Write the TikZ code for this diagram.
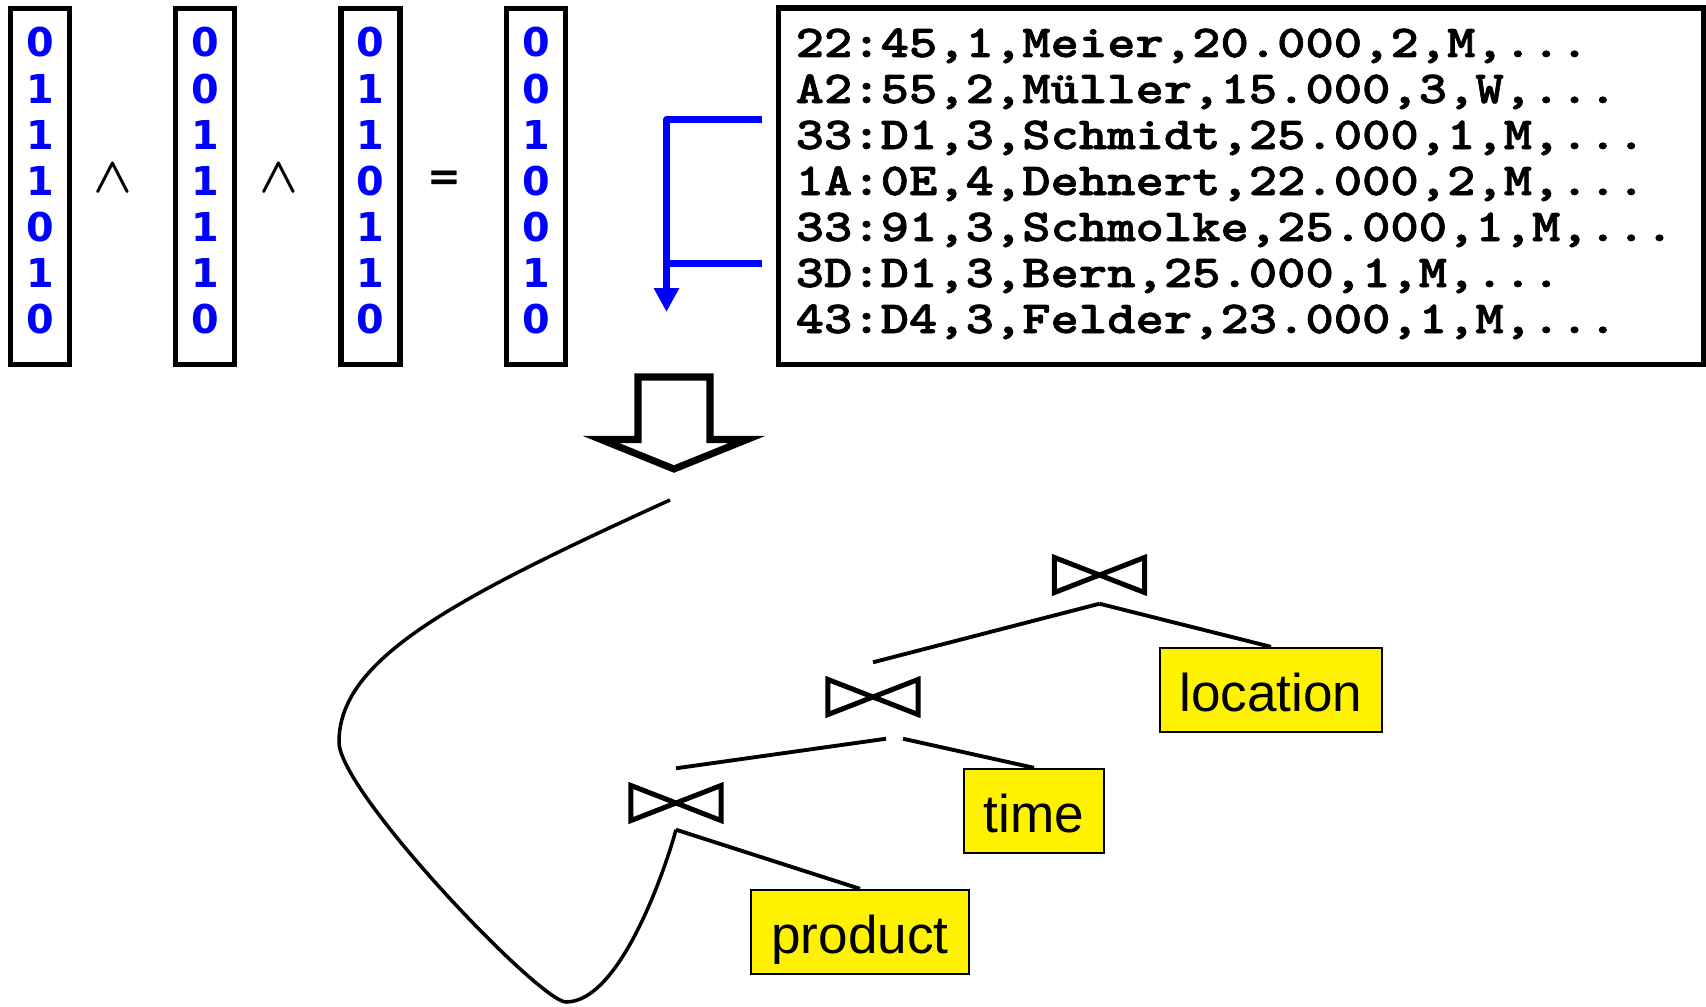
\documentclass[tikz,border=0pt]{standalone}
\usepackage{fontspec}
\setmainfont{Liberation Sans}
\newfontfamily\recfont{lmmonolt10-bold.otf}[FakeStretch=1.18,FakeBold=1.5]
\newfontfamily\symfont{DejaVu Sans}
\usepackage{tikz}
\usetikzlibrary{arrows.meta}
\usetikzlibrary{positioning}
\newcommand{\recmore}{...}
\tikzstyle{vecbox}=[draw,line width=1.56pt,minimum width=0.59cm,minimum height=3.555cm,inner sep=0pt]
\tikzstyle{bit}=[text=blue,font=\symfont\bfseries\fontsize{11.3pt}{14pt}\selectfont,inner sep=0pt,anchor=base]
\tikzstyle{rec}=[font=\recfont\fontsize{13pt}{16pt}\selectfont,inner sep=0pt,anchor=base west]
\tikzstyle{op}=[font=\boldmath\fontsize{14pt}{16pt}\selectfont,inner sep=0pt,anchor=base]
\tikzstyle{joinop}=[fill=white,minimum width=0.95cm,minimum height=0.40cm,inner sep=0pt,
  path picture={\draw[line width=1.42pt]
    ([xshift=0.71pt,yshift=-0.71pt]path picture bounding box.north west) --
    ([xshift=0.71pt,yshift=0.71pt]path picture bounding box.south west) --
    ([xshift=-0.71pt,yshift=-0.71pt]path picture bounding box.north east) --
    ([xshift=-0.71pt,yshift=0.71pt]path picture bounding box.south east) -- cycle;}]
\tikzstyle{dim}=[draw,fill=yellow,line width=0.65pt,minimum height=0.84cm,text height=0.42cm,text depth=0pt,inner sep=0pt,font=\fontsize{15.1pt}{18pt}\selectfont]
\tikzstyle{edge}=[line width=1.1pt]

\begin{document}
\begin{tikzpicture}[x=0.01cm,y=-0.01cm,
  sel/.style={draw=blue,line width=2pt,line join=round,-{Triangle[length=6.8pt,width=6.8pt]}},
  hollow/.style={draw,line width=2pt,line join=miter}]
\useasboundingbox (0,0) rectangle (1706,1006);

\foreach \c/\x/\bits in {1/40/{0,1,1,1,0,1,0},2/205/{0,0,1,1,1,1,0},3/370.5/{0,1,1,0,1,1,0},4/536/{0,0,1,0,0,1,0}}{
  \node[vecbox] (v\c) at (\x,186.5) {};
  \foreach \b [count=\r] in \bits
    \node[bit] (v\c-\r) at (\x,{11+46*\r}) {\b};
}
\node[op] (and1) at (113,192) {$\wedge$};
\node[op] (and2) at (279,192) {$\wedge$};
\node[op,font=\symfont\bfseries\fontsize{11.5pt}{14pt}\selectfont] (eq) at (444,190) {=};

\node[vecbox,minimum width=9.245cm,minimum height=3.565cm] (recs) at (1241.25,186.25) {};
\foreach \t [count=\r] in {{22:45,1,Meier,20.000,2,M,\recmore},{A2:55,2,Müller,15.000,3,W,\recmore},
  {33:D1,3,Schmidt,25.000,1,M,\recmore},{1A:0E,4,Dehnert,22.000,2,M,\recmore},
  {33:91,3,Schmolke,25.000,1,M,\recmore},{3D:D1,3,Bern,25.000,1,M,\recmore},{43:D4,3,Felder,23.000,1,M,\recmore}}
  \node[rec] (r\r) at (795,{11+46*\r}) {\t};

\coordinate (s3) at (762,119.5);
\coordinate (s6) at (762,263.5);
\coordinate (tip) at (666.5,312);
\draw[sel] (s3) -| (tip);
\draw[sel,-] (s6) -- (s6 -| tip);

\draw[hollow] (638,377) -- (710,377) -- (710,439.5) -- (747,439.5) -- (674,469) -- (601,439.5) -- (638,439.5) -- cycle;

\node[joinop] (j1) at (1099.5,575) {};
\node[joinop] (j2) at (873,697) {};
\node[joinop] (j3) at (676,803) {};
\node[dim,minimum width=2.22cm] (loc) at (1271,690) {location};
\node[dim,minimum width=1.40cm] (time) at (1034,811) {time};
\node[dim,minimum width=2.18cm] (prod) at (860,932) {product};

\draw[edge] ([yshift=-0.08cm]j1.south) -- ([yshift=0.14cm]j2.north);
\draw[edge] ([yshift=-0.08cm]j1.south) -- (loc.north);
\draw[edge] ([xshift=0.13cm,yshift=-0.21cm]j2.south) -- ([yshift=0.14cm]j3.north);
\draw[edge] ([xshift=0.30cm,yshift=-0.21cm]j2.south) -- (time.north);
\draw[edge] ([yshift=-0.06cm]j3.south) -- (prod.north);

\coordinate (cstart) at (670,500);
\draw[line width=1pt] (cstart) .. controls (450,600) and (339,660) .. (339,742)
  .. controls (339,792) and (540,1002) .. (566,1002)
  .. controls (620,1002) and (665,870) .. ([yshift=-0.06cm]j3.south);
\end{tikzpicture}
\end{document}
